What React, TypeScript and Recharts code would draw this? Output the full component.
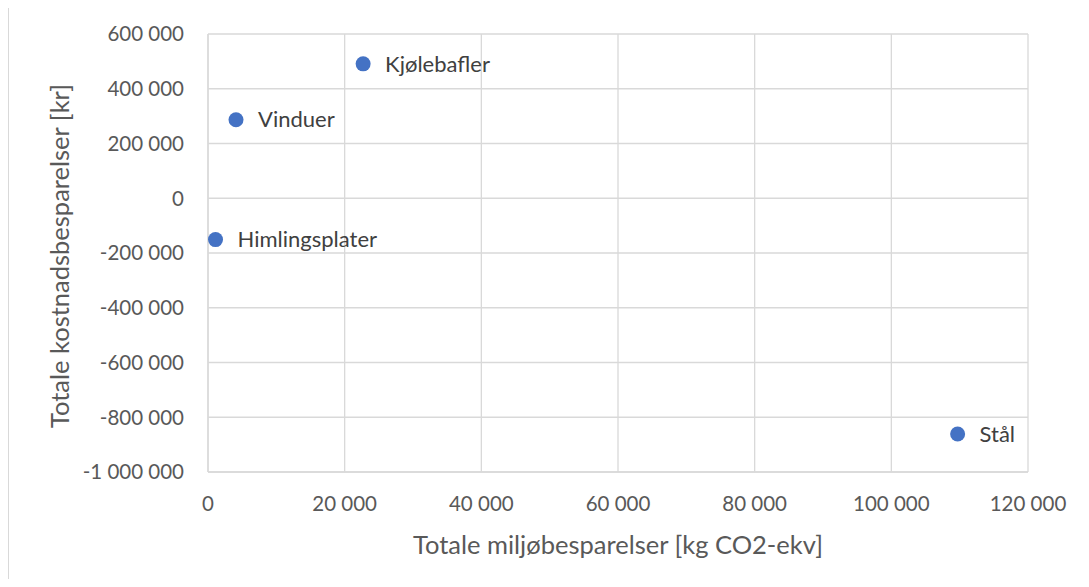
import React from 'react';
import { ScatterChart, Scatter, XAxis, YAxis, CartesianGrid, Label } from 'recharts';

const names = ['Himlingsplater', 'Vinduer', 'Kjølebafler', 'Stål'];
const envSavings = [1100, 4100, 22700, 109700];
const costSavings = [-151000, 287000, 491000, -861000];
const xTicks = [0, 20000, 40000, 60000, 80000, 100000, 120000];
const yTicks = [-1000000, -800000, -600000, -400000, -200000, 0, 200000, 400000, 600000];

const data = names.map((name, i) => ({ name, x: envSavings[i], y: costSavings[i] }));

const FONT = 'Lato, "Open Sans", sans-serif';
const fmt = (v: number) => {
  const s = Math.abs(v).toString().replace(/\B(?=(\d{3})+(?!\d))/g, ' ');
  return (v < 0 ? '-' : '') + s;
};

const Dot = (props: any) => {
  const { cx, cy, payload } = props;
  return (
    <g>
      <circle cx={cx} cy={cy} r={7.5} fill="#4472C4" />
      <text x={cx + 22} y={cy} dy="0.35em" fontSize={22} fill="#404040" fontFamily={FONT}>
        {payload.name}
      </text>
    </g>
  );
};

export default function App() {
  return (
    <div style={{ position: 'relative', width: 1089, height: 587, margin: -8, overflow: 'hidden', background: '#fff' }}>
      <div style={{ position: 'absolute', left: 8, top: 4, width: 1100, height: 600, border: '1px solid #d9d9d9', boxSizing: 'border-box' }} />
      <div style={{ position: 'absolute', left: 0, top: 0 }}>
        <ScatterChart width={1089} height={587} margin={{ top: 34, right: 61, bottom: 25, left: 78 }}>
          <CartesianGrid stroke="#d9d9d9" strokeWidth={1.3} />
          <XAxis
            type="number"
            dataKey="x"
            domain={[0, 120000]}
            ticks={xTicks}
            tickFormatter={fmt}
            height={90}
            axisLine={{ stroke: '#d9d9d9', strokeWidth: 1.3 }}
            tickLine={false}
            tickMargin={18}
            tick={{ fill: '#595959', fontSize: 20.5, fontFamily: FONT }}
            interval={0}
          >
            <Label
              content={() => (
                <text x={618} y={545} dy="0.35em" textAnchor="middle" fontSize={25.5} fill="#595959" fontFamily={FONT}>
                  Totale miljøbesparelser [kg CO2-ekv]
                </text>
              )}
            />
          </XAxis>
          <YAxis
            type="number"
            dataKey="y"
            domain={[-1000000, 600000]}
            ticks={yTicks}
            tickFormatter={fmt}
            width={130}
            axisLine={{ stroke: '#d9d9d9', strokeWidth: 1.3 }}
            tickLine={false}
            tickMargin={18}
            tick={{ fill: '#595959', fontSize: 20.5, fontFamily: FONT }}
            interval={0}
          >
            <Label
              content={() => (
                <text
                  x={60}
                  y={256}
                  dy="0.35em"
                  textAnchor="middle"
                  transform="rotate(-90 60 256)"
                  fontSize={25.5}
                  fill="#595959"
                  fontFamily={FONT}
                >
                  Totale kostnadsbesparelser [kr]
                </text>
              )}
            />
          </YAxis>
          <Scatter data={data} shape={Dot} isAnimationActive={false} />
        </ScatterChart>
      </div>
    </div>
  );
}
